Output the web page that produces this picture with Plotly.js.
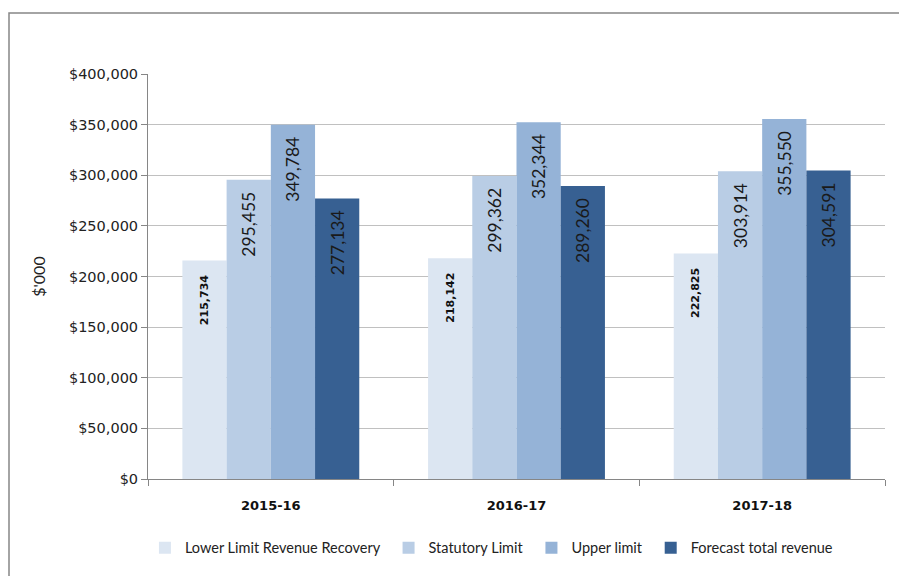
<!DOCTYPE html>
<html>
<head>
<meta charset="utf-8">
<script src="https://cdn.plot.ly/plotly-3.0.1.min.js"></script>
<style>html,body{margin:0;padding:0;background:#fff;}#chart{width:899px;height:576px;}</style>
</head>
<body>
<div id="chart"></div>
<script>
const categories = ["2015-16", "2016-17", "2017-18"];
const seriesNames = ["Lower Limit Revenue Recovery", "Statutory Limit", "Upper limit", "Forecast total revenue"];
const lowerLimit = [215734, 218142, 222825];
const statutoryLimit = [295455, 299362, 303914];
const upperLimit = [349784, 352344, 355550];
const forecastRevenue = [277134, 289260, 304591];
const yTickValues = [0, 50000, 100000, 150000, 200000, 250000, 300000, 350000, 400000];

const colors = ["#dce6f2", "#b9cde5", "#95b3d7", "#376092"];
const allSeries = [lowerLimit, statutoryLimit, upperLimit, forecastRevenue];
const fmt = v => v.toLocaleString("en-US");
const NB = "\u00a0";

const traces = allSeries.map((vals, i) => ({
  type: "bar",
  name: seriesNames[i] + (i < 3 ? NB : ""),
  x: categories,
  y: vals,
  text: vals.map(v => fmt(v) + (i === 0 ? NB.repeat(3) : NB.repeat(2))),
  textposition: "inside",
  insidetextanchor: "end",
  textangle: -90,
  constraintext: "none",
  cliponaxis: false,
  textfont: i === 0
    ? {family: "DejaVu Sans", size: 11, color: "#111", weight: "bold"}
    : {family: "Lato, 'Open Sans', sans-serif", size: 17.5, color: "#1a1a1a"},
  marker: {color: colors[i], line: {width: 0}},
  hoverinfo: "none"
}));

const layout = {
  width: 899, height: 576,
  margin: {l: 148, r: 14, t: 74, b: 97},
  paper_bgcolor: "#fff",
  plot_bgcolor: "#fff",
  barmode: "group",
  bargap: 0.28,
  bargroupgap: 0,
  showlegend: true,
  legend: {
    orientation: "h", x: 0.466, xanchor: "center", y: -0.17, yanchor: "middle",
    font: {family: "Lato, sans-serif", size: 14.5, color: "#222"},
    traceorder: "normal", itemwidth: 30
  },
  xaxis: {
    type: "category",
    tickfont: {family: "DejaVu Sans", size: 13, color: "#111", weight: "bold"},
    ticklabelstandoff: 14,
    showline: true, linecolor: "#868686", linewidth: 1,
    ticks: "outside", tickson: "boundaries", ticklen: 6, tickcolor: "#868686",
    showgrid: false, zeroline: false
  },
  yaxis: {
    range: [0, 400000],
    tickvals: yTickValues,
    ticktext: yTickValues.map(v => "$" + fmt(v)),
    tickfont: {family: "DejaVu Sans", size: 14.5, color: "#222"},
    showline: true, linecolor: "#868686", linewidth: 1,
    ticks: "outside", ticklen: 6, tickcolor: "#868686",
    showgrid: true, gridcolor: "#c0c0c0", gridwidth: 1,
    zeroline: false,
    title: {text: "$'000", font: {family: "Lato, sans-serif", size: 16, color: "#222"}, standoff: 19}
  },
  shapes: [{
    type: "rect", xref: "paper", yref: "paper",
    x0: -0.1886, x1: 1.2, y0: -0.6, y1: 1.1506,
    line: {color: "#868686", width: 1.5}, fillcolor: "rgba(0,0,0,0)", layer: "below"
  }]
};

Plotly.newPlot("chart", traces, layout, {displayModeBar: false, staticPlot: true});
</script>
</body>
</html>
